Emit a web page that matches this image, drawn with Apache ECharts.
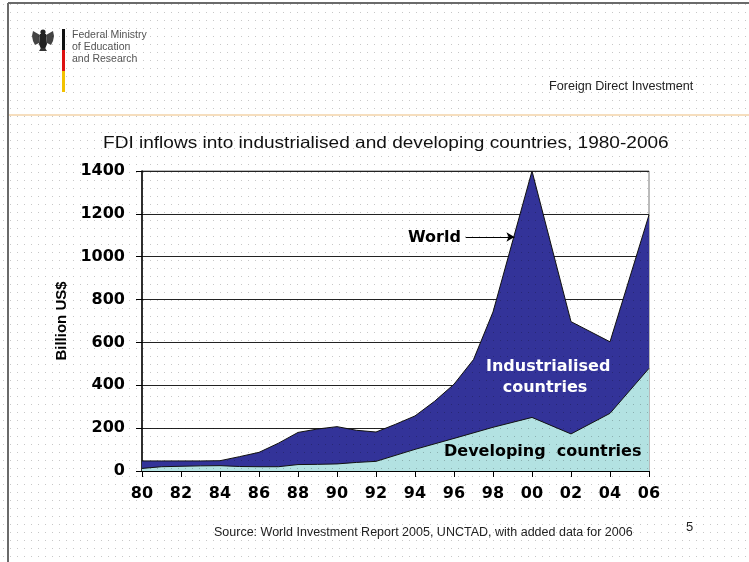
<!DOCTYPE html>
<html>
<head>
<meta charset="utf-8">
<title>FDI inflows</title>
<script src="https://cdn.jsdelivr.net/npm/echarts@6/dist/echarts.min.js"></script>
<style>
  html, body { margin: 0; padding: 0; background: #ffffff; }
  #wrap { position: relative; width: 749px; height: 562px; overflow: hidden; }
  #chart { position: absolute; left: 0; top: 0; width: 749px; height: 562px; }
  /* fine dotted slide texture, laid over everything */
  #dots {
    position: absolute; left: 0; top: 0; width: 749px; height: 562px; pointer-events: none;
    background-image: url("data:image/svg+xml,%3Csvg xmlns='http://www.w3.org/2000/svg' width='7' height='8'%3E%3Crect x='3' y='4' width='1' height='1' fill='rgba(0,0,0,0.22)'/%3E%3C/svg%3E");
  }
</style>
</head>
<body>
<div id="wrap">
  <div id="chart"></div>
  <div id="dots"></div>
</div>
<script>
// FDI inflows, billion US$ (world total and developing countries)
const worldYears  = [1980, 1981, 1982, 1983, 1984, 1985, 1986, 1987, 1988, 1989, 1990, 1991, 1992, 1993, 1994, 1995, 1996, 1997, 1998, 2000, 2002, 2004, 2006];
const worldValues = [47, 47, 47, 47, 48, 67, 87, 130, 180, 196, 207, 190, 182, 218, 257, 325, 405, 520, 742, 1400, 697, 603, 1195];

const devYears  = [1980, 1981, 1982, 1983, 1984, 1985, 1986, 1987, 1988, 1989, 1990, 1991, 1992, 1994, 1996, 1998, 2000, 2002, 2004, 2006];
const devValues = [12, 20, 22, 24, 25, 21, 20, 20, 30, 31, 33, 40, 45, 101, 152, 204, 250, 173, 269, 479];

// x-axis ticks and their printed labels
const tickYears  = [1980, 1982, 1984, 1986, 1988, 1990, 1992, 1994, 1996, 1998, 2000, 2002, 2004, 2006];
const tickLabels = ['80', '82', '84', '86', '88', '90', '92', '94', '96', '98', '00', '02', '04', '06'];

const AR = '"Liberation Sans", Arial, sans-serif';
const DV = '"DejaVu Sans", sans-serif';

const pair = (xs, ys) => xs.map((x, i) => [x, ys[i]]);

const chart = echarts.init(document.getElementById('chart'), null, { renderer: 'canvas' });

chart.setOption({
  animation: false,
  backgroundColor: 'transparent',
  grid: {
    left: 142, right: 100, top: 171, bottom: 91,
    show: true, borderColor: '#777', borderWidth: 1, backgroundColor: 'transparent'
  },
  xAxis: {
    type: 'value', min: 1980, max: 2006, interval: 2,
    axisLine: { show: true, lineStyle: { color: '#000', width: 1 } },
    axisTick: { show: true, length: 6, inside: false, lineStyle: { color: '#000' } },
    splitLine: { show: false },
    axisLabel: {
      margin: 15, color: '#000', fontFamily: DV, fontWeight: 'bold', fontSize: 16,
      formatter: v => tickLabels[tickYears.indexOf(v)] ?? ''
    }
  },
  yAxis: {
    type: 'value', min: 0, max: 1400, interval: 200,
    name: 'Billion US$', nameLocation: 'middle', nameGap: 72, nameRotate: 90,
    nameTextStyle: { color: '#000', fontFamily: AR, fontWeight: 'bold', fontSize: 15 },
    axisLine: { show: true, lineStyle: { color: '#000', width: 1.5 } },
    axisTick: { show: true, length: 6, lineStyle: { color: '#000' } },
    splitLine: { show: true, lineStyle: { color: '#222', width: 1 } },
    axisLabel: {
      margin: 17, color: '#000', fontFamily: DV, fontWeight: 'bold', fontSize: 16,
      formatter: v => String(v)
    }
  },
  series: [
    {
      name: 'World', type: 'line', data: pair(worldYears, worldValues),
      symbol: 'none', z: 2,
      lineStyle: { color: '#111', width: 1 },
      areaStyle: { color: '#333399', opacity: 1 },
      markLine: {
        silent: true, symbol: ['none', 'arrow'], symbolSize: [7, 8],
        lineStyle: { color: '#000', width: 1, type: 'solid' },
        label: { show: false },
        data: [[{ coord: [1996.6, 1092] }, { coord: [1999.1, 1092] }]]
      }
    },
    {
      name: 'Developing countries', type: 'line', data: pair(devYears, devValues),
      symbol: 'none', z: 3,
      lineStyle: { color: '#111', width: 1 },
      areaStyle: { color: '#b3e2e2', opacity: 1 }
    }
  ],
  graphic: [
    // slide frame
    { type: 'line', shape: { x1: 8, y1: 3, x2: 749, y2: 3 }, style: { stroke: '#6a6a6a', lineWidth: 2 } },
    { type: 'line', shape: { x1: 8, y1: 3, x2: 8, y2: 562 }, style: { stroke: '#6a6a6a', lineWidth: 2 } },
    // header rule
    { type: 'line', shape: { x1: 9, y1: 115, x2: 749, y2: 115 }, style: { stroke: '#f3d3a8', lineWidth: 1.5 } },
    // colour bar of the ministry logo
    { type: 'rect', shape: { x: 62, y: 29, width: 3, height: 21 }, style: { fill: '#111' } },
    { type: 'rect', shape: { x: 62, y: 50, width: 3, height: 21 }, style: { fill: '#dd1111' } },
    { type: 'rect', shape: { x: 62, y: 71, width: 3, height: 21 }, style: { fill: '#f2c200' } },
    // eagle emblem
    {
      type: 'group', x: 43, y: 39,
      children: [
        { type: 'circle', shape: { cx: 0, cy: -7, r: 2.6 }, style: { fill: '#222' } },
        { type: 'polygon', shape: { points: [[-3, -5], [3, -5], [4, 5], [2, 10], [-2, 10], [-4, 5]] }, style: { fill: '#222' } },
        { type: 'polygon', shape: { points: [[-3, -4], [-10, -8], [-11, -3], [-10, 2], [-8, 6], [-4, 4]] }, style: { fill: '#444' } },
        { type: 'polygon', shape: { points: [[3, -4], [10, -8], [11, -3], [10, 2], [8, 6], [4, 4]] }, style: { fill: '#444' } },
        { type: 'polygon', shape: { points: [[-2, 9], [2, 9], [4, 12], [-4, 12]] }, style: { fill: '#333' } }
      ]
    },
    { type: 'text', x: 72, y: 29, style: { text: 'Federal Ministry\nof Education\nand Research', font: '10.5px ' + AR, fill: '#555', lineHeight: 12 } },
    { type: 'text', x: 549, y: 81, scaleX: 1.05, style: { text: 'Foreign Direct Investment', font: '12px ' + AR, fill: '#222' } },
    // chart title
    { type: 'text', x: 103, y: 135, scaleX: 1.155, style: { text: 'FDI inflows into industrialised and developing countries, 1980-2006', font: '16.5px ' + AR, fill: '#111' } },
    // area annotations
    { type: 'text', left: 408, top: 230, z: 10, style: { text: 'World', font: 'bold 16px ' + DV, fill: '#000' } },
    { type: 'text', left: 486, top: 356, z: 10, style: { text: 'Industrialised\n   countries', font: 'bold 16px ' + DV, fill: '#ffffff', lineHeight: 21 } },
    { type: 'text', left: 444, top: 444, z: 10, style: { text: 'Developing  countries', font: 'bold 16px ' + DV, fill: '#000' } },
    // footer
    { type: 'text', x: 214, y: 527, scaleX: 1.042, style: { text: 'Source: World Investment Report 2005, UNCTAD, with added data for 2006', font: '12px ' + AR, fill: '#222' } },
    { type: 'text', left: 686, top: 521, style: { text: '5', font: '13px ' + AR, fill: '#222' } }
  ]
});
</script>
</body>
</html>
